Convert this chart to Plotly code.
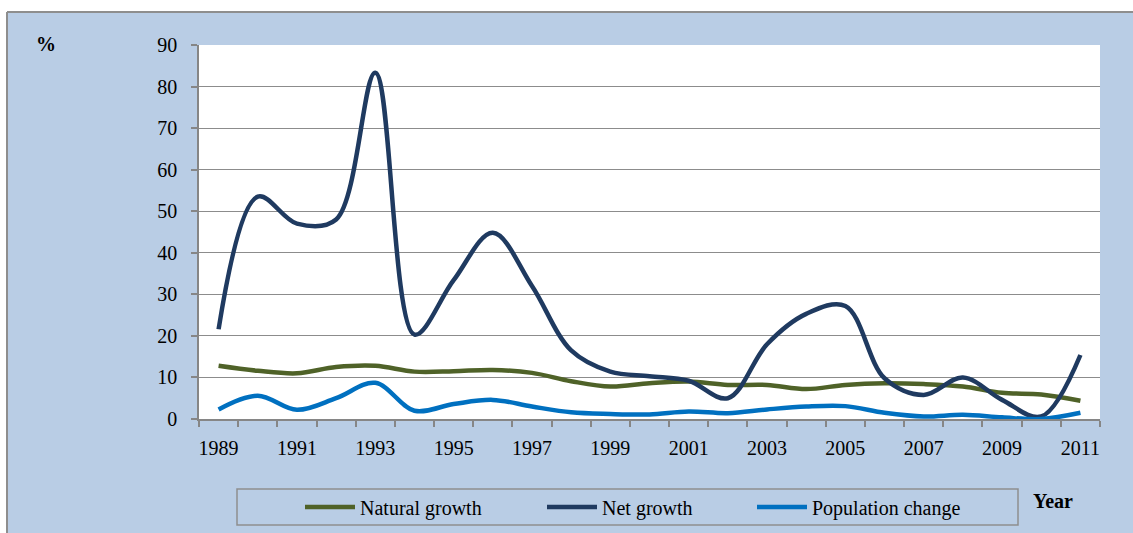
import plotly.graph_objects as go

years = list(range(1989, 2012))
natural_growth = [12.8, 11.6, 11.0, 12.5, 12.8, 11.4, 11.5, 11.8, 11.1, 9.1, 7.8, 8.6,
                  9.0, 8.2, 8.2, 7.2, 8.2, 8.6, 8.4, 7.8, 6.3, 5.9, 4.4]
net_growth = [21.6, 53.5, 47.0, 48.0, 83.3, 20.3, 33.4, 44.8, 32.0, 16.5, 11.4, 10.3,
              9.2, 5.0, 18.0, 25.3, 27.2, 9.8, 5.8, 10.0, 4.6, 0.6, 15.4]
population_change = [2.3, 5.6, 2.2, 5.0, 8.7, 2.0, 3.6, 4.6, 3.0, 1.6, 1.2, 1.1,
                     1.8, 1.4, 2.3, 3.0, 3.1, 1.5, 0.6, 1.0, 0.4, 0.0, 1.5]
label_years = [y for y in years if y % 2 == 1]
boundaries = [y - 0.5 for y in years] + [years[-1] + 0.5]

W, H = 1133, 533
L, R, T, B = 199, 33, 45, 114
pw, ph = W - L - R, H - T - B

def px(x):
    return (x - L) / pw

def py(y):
    return (H - B - y) / ph

FONT = "Liberation Serif"
FS = 20
GRAY = "#868686"

fig = go.Figure()
series = [
    ("Natural growth", natural_growth, "#4F6228", "legend", 300),
    ("Net growth", net_growth, "#1F3A60", "legend2", 542),
    ("Population change", population_change, "#0070C0", "legend3", 752),
]
for name, vals, col, lg, _ in series:
    fig.add_trace(go.Scatter(
        x=years, y=vals, name=name, mode="lines",
        line=dict(color=col, width=4.5, shape="spline", smoothing=1.0),
        legend=lg,
    ))

legend_common = dict(orientation="h", yanchor="middle", y=py(507),
                     bgcolor="rgba(0,0,0,0)", borderwidth=0, itemwidth=50,
                     font=dict(family=FONT, size=FS, color="black"))
layout_legends = {}
for name, vals, col, lg, xpos in series:
    layout_legends[lg] = dict(x=px(xpos), xanchor="left", **legend_common)

fig.update_layout(
    width=W, height=H,
    margin=dict(l=L, r=R, t=T, b=B, autoexpand=False),
    paper_bgcolor="#B9CDE5",
    plot_bgcolor="white",
    showlegend=True,
    font=dict(family=FONT, size=FS, color="black"),
    xaxis=dict(
        range=[1988.5, 2011.5], tickmode="array", tickvals=label_years,
        ticktext=[str(y) for y in label_years], ticks="", showgrid=False,
        zeroline=False, showline=True, linecolor=GRAY, linewidth=1.5,
        automargin=False,
        ticklabelstandoff=10, tickfont=dict(family=FONT, size=FS),
        minor=dict(tickmode="array", tickvals=boundaries, ticks="outside",
                   ticklen=6, tickcolor=GRAY, tickwidth=1.5, showgrid=False),
    ),
    yaxis=dict(
        range=[0, 90], dtick=10, tick0=0, ticks="outside", ticklen=6,
        tickcolor=GRAY, tickwidth=1.5, showgrid=True, gridcolor="#8C8C8C",
        gridwidth=1.3, zeroline=False, showline=True, linecolor=GRAY,
        linewidth=1.5, automargin=False,
        ticklabelstandoff=10, tickfont=dict(family=FONT, size=FS),
    ),
    shapes=[
        dict(type="rect", xref="paper", yref="paper", x0=px(-5), x1=px(W + 5),
             y0=py(12), y1=py(-5), fillcolor="white", line=dict(width=0), layer="above"),
        dict(type="rect", xref="paper", yref="paper", x0=px(-5), x1=px(7),
             y0=py(H + 5), y1=py(-5), fillcolor="white", line=dict(width=0), layer="above"),
        dict(type="line", xref="paper", yref="paper", x0=px(7), x1=px(W + 5),
             y0=py(12), y1=py(12), line=dict(color="#8E8E8E", width=2)),
        dict(type="line", xref="paper", yref="paper", x0=px(7), x1=px(7),
             y0=py(12), y1=py(H + 5), line=dict(color="#8E8E8E", width=2)),
        dict(type="rect", xref="paper", yref="paper", x0=px(237), x1=px(1018),
             y0=py(525), y1=py(489), line=dict(color="#8E8E8E", width=1.5)),
    ],
    annotations=[
        dict(text="<b>%</b>", xref="paper", yref="paper", x=px(46), y=py(44),
             xanchor="center", yanchor="middle", showarrow=False,
             font=dict(family=FONT, size=FS)),
        dict(text="<b>Year</b>", xref="paper", yref="paper", x=px(1053), y=py(501),
             xanchor="center", yanchor="middle", showarrow=False,
             font=dict(family=FONT, size=FS)),
    ],
    **layout_legends,
)

fig.write_html("out.html", config={"displayModeBar": False},
               post_script="document.body.style.margin='0';document.body.style.padding='0';")
